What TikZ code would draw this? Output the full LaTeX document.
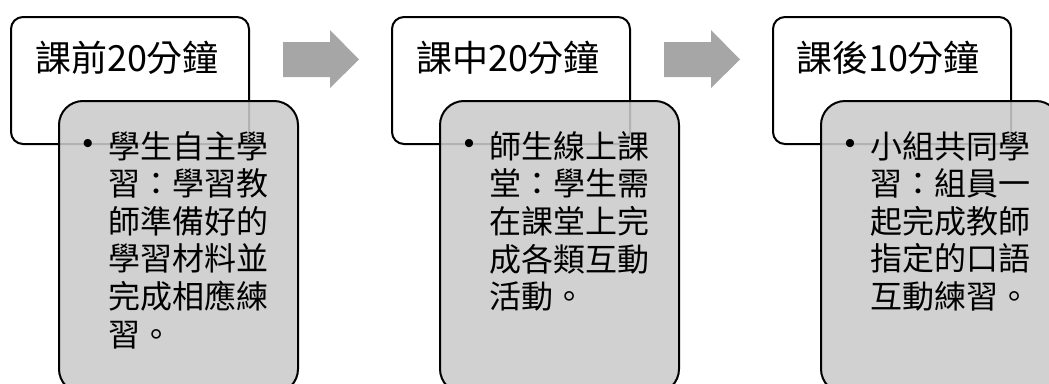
\documentclass[tikz,border=0pt]{standalone}
\usepackage{fontspec}
\setmainfont{Noto Sans CJK TC}
\newfontfamily\bulletfont{Liberation Sans}
\definecolor{detailgray}{RGB}{203,203,203}
\definecolor{arrowgray}{RGB}{166,166,166}
\begin{document}
\begin{tikzpicture}[x=1pt,y=-1pt,
  titlebox/.style={draw=black, line width=2pt, rounded corners=12pt, fill=white,
    minimum width=238pt, minimum height=127pt, anchor=north west, inner sep=0pt},
  detailbox/.style={draw=black, line width=2pt, rounded corners=24pt, fill=detailgray,
    fill opacity=0.88, minimum width=239pt, minimum height=292pt, anchor=north west, inner sep=0pt},
  titletext/.style={font=\fontsize{36}{40}\selectfont, inner sep=0pt},
  bodytext/.style={font=\fontsize{32}{37.6}\selectfont, align=left, inner sep=0pt, anchor=north west},
  bulletmark/.style={font=\bulletfont\fontsize{30}{30}\selectfont, inner sep=0pt},
  flowarrow/.style={fill=arrowgray, draw=none}
]
\path[use as bounding box] (0,0) rectangle (1049,383);
\clip (0,0) rectangle (1049,383);

% group 1
\node[titlebox] (t1) at (10,16) {};
\node[titletext] (tt1) at (127,58) {課前20分鐘};
\node[detailbox] (d1) at (58,100) {};
\node[bulletmark] (b1) at (88,146) {•};
\node[bodytext] (x1) at (108,131) {學生自主學\\習：學習教\\師準備好的\\學習材料並\\完成相應練\\習。};

% arrow 1
\fill[flowarrow] (283,42) -- (330,42) -- (330,30) -- (359,59.5) -- (330,88) -- (330,77) -- (283,77) -- cycle;

% group 2
\node[titlebox] (t2) at (391,16) {};
\node[titletext] (tt2) at (508,58) {課中20分鐘};
\node[detailbox] (d2) at (439,100) {};
\node[bulletmark] (b2) at (469,146) {•};
\node[bodytext] (x2) at (489,131) {師生線上課\\堂：學生需\\在課堂上完\\成各類互動\\活動。};

% arrow 2
\fill[flowarrow] (664,42) -- (711,42) -- (711,30) -- (740,59.5) -- (711,88) -- (711,77) -- (664,77) -- cycle;

% group 3
\node[titlebox] (t3) at (772,16) {};
\node[titletext] (tt3) at (888,58) {課後10分鐘};
\node[detailbox] (d3) at (820,100) {};
\node[bulletmark] (b3) at (850,146) {•};
\node[bodytext] (x3) at (870,131) {小組共同學\\習：組員一\\起完成教師\\指定的口語\\互動練習。};
\end{tikzpicture}
\end{document}
